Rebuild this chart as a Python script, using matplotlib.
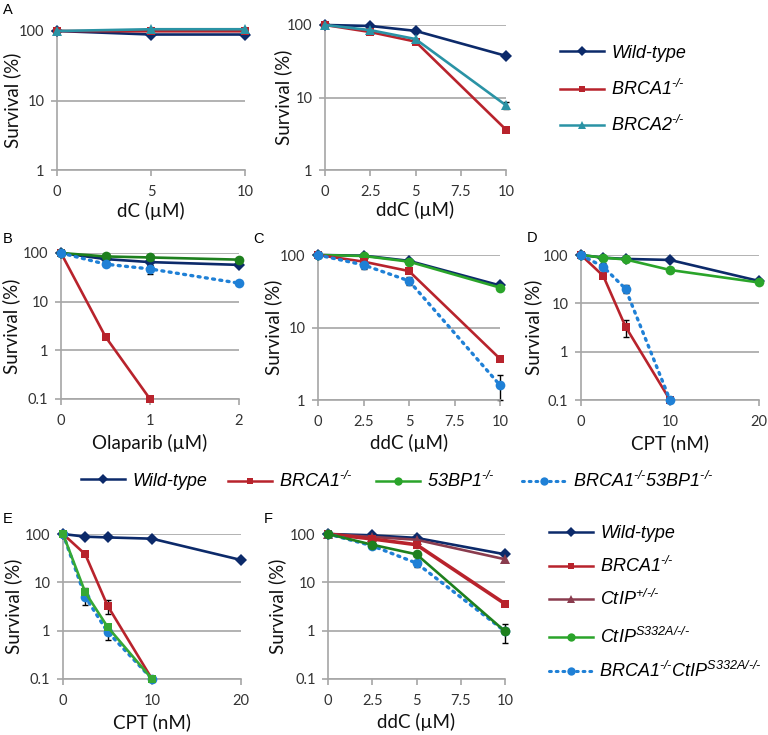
import matplotlib
matplotlib.use("Agg")
import matplotlib.pyplot as plt
from matplotlib.ticker import FuncFormatter, NullLocator
from matplotlib.lines import Line2D

plt.rcParams['font.family'] = ['Lato', 'DejaVu Sans']
plt.rcParams['mathtext.fontset'] = 'custom'
plt.rcParams['mathtext.it'] = 'Liberation Sans:italic'
plt.rcParams['mathtext.rm'] = 'Liberation Sans:italic'
plt.rcParams['mathtext.default'] = 'it'

# ---------------- data ----------------
# Panel A (dC)
a1_x = [0, 5, 10]
a1_wt = [100, 89, 89]
a1_brca1 = [100, 99, 99]
a1_brca2 = [100, 106, 106]
# Panel A (ddC)
a2_x = [0, 2.5, 5, 10]
a2_wt = [100, 97, 83, 37.5]
a2_brca1 = [100, 80, 59, 3.6]
a2_brca2 = [100, 85, 64, 7.8]
a2_brca2_err = [0, 0, 0, 0.9]
# Panel B (Olaparib)
b_x = [0, 0.5, 1, 2]
b_wt = [100, 75, 65, 57]
b_wt_err = [0, 0, 8, 0]
b_brca1_x = [0, 0.5, 1]
b_brca1 = [100, 1.9, 0.1]
b_53bp1 = [100, 85, 81, 73]
b_dbl = [100, 59, 47, 24]
b_dbl_err = [0, 5, 10, 2]
# Panel C (ddC)
c_x = [0, 2.5, 5, 10]
c_wt = [100, 98, 83, 38]
c_brca1 = [100, 81, 60, 3.7]
c_53bp1 = [100, 97, 81, 35.5]
c_dbl = [100, 73, 44, 1.6]
c_dbl_err = [0, 8, 6, 0.6]
# Panel D (CPT)
d_x = [0, 2.5, 5, 10, 20]
d_wt = [100, 88, 83, 79, 29]
d_brca1_x = [0, 2.5, 5, 10]
d_brca1 = [100, 37, 3.3, 0.1]
d_brca1_err = [0, 0, 1.3, 0]
d_53bp1 = [100, 88, 81, 49, 27]
d_dbl_x = [0, 2.5, 5, 10]
d_dbl = [100, 57, 20, 0.1]
d_dbl_err = [0, 12, 4, 0]
# Panel E (CPT)
e_x = [0, 2.5, 5, 10, 20]
e_wt = [100, 88, 85, 80, 29]
e_brca1_x = [0, 2.5, 5, 10]
e_brca1 = [100, 38, 3.3, 0.1]
e_brca1_err = [0, 0, 1.1, 0]
e_s332a_x = [0, 2.5, 5, 10]
e_s332a = [100, 6.2, 1.2, 0.1]
e_s332a_err = [0, 1.3, 0, 0]
e_dbl_x = [0, 2.5, 5, 10]
e_dbl = [100, 5.0, 0.95, 0.1]
e_dbl_err = [0, 1.6, 0.3, 0]
# Panel F (ddC)
f_x = [0, 2.5, 5, 10]
f_wt = [100, 94, 83, 38]
f_ctip_het = [100, 87, 76, 30]
f_brca1 = [100, 79, 60, 3.6]
f_s332a = [100, 60, 38, 0.97]
f_dbl = [100, 57, 25, 0.97]
f_dbl_err = [0, 6, 4, 0.42]

# labels (italic text, superscripts via mathtext)
HY = '\u2010'
SUP_KO = '$^{' + HY + '/' + HY + '}$'
lab_wt = 'Wild-type'
lab_brca1 = 'BRCA1' + SUP_KO
lab_brca2 = 'BRCA2' + SUP_KO
lab_53bp1 = '53BP1' + SUP_KO
lab_dbl53 = 'BRCA1' + SUP_KO + '53BP1' + SUP_KO
lab_ctiphet = 'CtIP$^{+/' + HY + '/' + HY + '}$'
lab_s332a = 'CtIP$^{S332A/' + HY + '/' + HY + '}$'
lab_dblct = 'BRCA1' + SUP_KO + 'CtIP$^{S332A/' + HY + '/' + HY + '}$'

# colours / styles
C_WT = '#0c2a6a'
C_B1 = '#b8232c'
C_B2 = '#2a93a5'
C_53 = '#2aa42a'
C_53D = '#1e801e'
C_CT = '#8a3c4e'
C_DB = '#1f80d6'
GRID = '#a6a6a6'

W, H = 768, 735
fig = plt.figure(figsize=(W / 100, H / 100), dpi=100)


def add_ax(x0, x1, yt, yb):
    return fig.add_axes([x0 / W, 1 - yb / H, (x1 - x0) / W, (yb - yt) / H])


def style(ax, px, xticks, ylim, xlabel, ylab_cx, xlab_cy):
    x0, x1, yt, yb = px
    ax.set_yscale('log')
    ax.set_ylim(*ylim)
    ax.set_xlim(xticks[0], xticks[-1])
    ax.set_xticks(xticks)
    ax.set_xticklabels([f'{t:g}' for t in xticks])
    yt_vals = [v for v in [0.1, 1, 10, 100] if ylim[0] <= v <= ylim[1]]
    ax.set_yticks(yt_vals)
    ax.yaxis.set_major_formatter(FuncFormatter(lambda v, p: f'{v:g}'))
    ax.yaxis.set_minor_locator(NullLocator())
    ax.grid(axis='y', color=GRID, lw=1.2)
    ax.set_axisbelow(True)
    for s in ['top', 'right']:
        ax.spines[s].set_visible(False)
    for s in ['left', 'bottom']:
        ax.spines[s].set_color(GRID)
        ax.spines[s].set_linewidth(1.2)
    ax.tick_params(axis='both', color=GRID, length=4, width=1.2,
                   labelsize=10.5, labelcolor='#333333')
    ax.tick_params(axis='x', pad=6.5)
    ax.tick_params(axis='y', pad=5)
    ax.set_ylabel('Survival (%)', fontsize=13.5, color='#111111')
    ax.set_xlabel(xlabel, fontsize=13.5, color='#111111')
    ax.yaxis.label.set_va('center')
    ax.xaxis.label.set_va('center')
    ax.yaxis.set_label_coords((ylab_cx - x0) / (x1 - x0), 0.5)
    ax.xaxis.set_label_coords(0.5, (yb - xlab_cy) / (yb - yt))


def line(ax, x, y, color, marker, ms, ls='-', lw=1.9, z=3):
    kw = dict(color=color, marker=marker, markersize=ms, lw=lw, clip_on=False,
              zorder=z, markeredgewidth=0)
    if ls == ':':
        kw.update(linestyle=(0, (0.6, 1.6)), dash_capstyle='round', lw=2.4)
    ax.plot(x, y, **kw)


def err(ax, x, y, e):
    ax.errorbar(x, y, yerr=e, fmt='none', ecolor='black', elinewidth=1,
                capsize=2.5, capthick=1, zorder=2.5, clip_on=False)


# ---------------- Panel A (dC) ----------------
pA1 = (57, 245, 31, 170)
ax = add_ax(*pA1)
line(ax, a1_x, a1_wt, C_WT, 'D', 6)
line(ax, a1_x, a1_brca1, C_B1, 's', 6)
line(ax, a1_x, a1_brca2, C_B2, '^', 7)
style(ax, pA1, [0, 5, 10], (1, 100), 'dC (µM)', 12, 211)

# ---------------- Panel A (ddC) ----------------
pA2 = (325, 506, 25, 170)
ax = add_ax(*pA2)
err(ax, a2_x, a2_brca2, a2_brca2_err)
line(ax, a2_x, a2_wt, C_WT, 'D', 6)
line(ax, a2_x, a2_brca1, C_B1, 's', 6)
line(ax, a2_x, a2_brca2, C_B2, '^', 7)
style(ax, pA2, [0, 2.5, 5, 7.5, 10], (1, 100), 'ddC (µM)', 283, 210)

# ---------------- Panel B ----------------
pB = (61, 239, 253, 399)
ax = add_ax(*pB)
err(ax, b_x, b_wt, b_wt_err)
err(ax, b_x, b_dbl, b_dbl_err)
line(ax, b_x, b_wt, C_WT, 'D', 6)
line(ax, b_brca1_x, b_brca1, C_B1, 's', 6)
line(ax, b_x, b_53bp1, C_53D, 'o', 7)
line(ax, b_x, b_dbl, C_DB, 'o', 7, ls=':')
style(ax, pB, [0, 1, 2], (0.1, 100), 'Olaparib (µM)', 11, 443)

# ---------------- Panel C ----------------
pC = (318, 500, 255, 400)
ax = add_ax(*pC)
err(ax, c_x, c_dbl, c_dbl_err)
line(ax, c_x, c_wt, C_WT, 'D', 6)
line(ax, c_x, c_53bp1, C_53, 'o', 7)
line(ax, c_x, c_brca1, C_B1, 's', 6)
line(ax, c_x, c_dbl, C_DB, 'o', 7, ls=':')
style(ax, pC, [0, 2.5, 5, 7.5, 10], (1, 100), 'ddC (µM)', 273, 443)

# ---------------- Panel D ----------------
pD = (581, 759, 255, 400)
ax = add_ax(*pD)
err(ax, d_brca1_x, d_brca1, d_brca1_err)
err(ax, d_dbl_x, d_dbl, d_dbl_err)
line(ax, d_x, d_wt, C_WT, 'D', 6)
line(ax, d_x, d_53bp1, C_53, 'o', 7)
line(ax, d_brca1_x, d_brca1, C_B1, 's', 6)
line(ax, d_dbl_x, d_dbl, C_DB, 'o', 7, ls=':')
style(ax, pD, [0, 10, 20], (0.1, 100), 'CPT (nM)', 533, 443)

# ---------------- Panel E ----------------
pE = (63, 241, 534, 679)
ax = add_ax(*pE)
err(ax, e_brca1_x, e_brca1, e_brca1_err)
err(ax, e_s332a_x, e_s332a, e_s332a_err)
err(ax, e_dbl_x, e_dbl, e_dbl_err)
line(ax, e_x, e_wt, C_WT, 'D', 6)
line(ax, e_brca1_x, e_brca1, C_B1, 's', 6)
line(ax, e_dbl_x, e_dbl, C_DB, 'o', 7, ls=':')
line(ax, e_s332a_x, e_s332a, '#36a835', 's', 6)
style(ax, pE, [0, 10, 20], (0.1, 100), 'CPT (nM)', 13, 722)

# ---------------- Panel F ----------------
pF = (328, 505, 534, 679)
ax = add_ax(*pF)
err(ax, f_x, f_dbl, f_dbl_err)
line(ax, f_x, f_wt, C_WT, 'D', 6)
line(ax, f_x, f_ctip_het, C_CT, '^', 7)
line(ax, f_x, f_brca1, C_B1, 's', 6, lw=2.6)
line(ax, f_x, f_dbl, C_DB, 'o', 7, ls=':')
line(ax, f_x, f_s332a, C_53D, 'o', 7)
style(ax, pF, [0, 2.5, 5, 7.5, 10], (0.1, 100), 'ddC (µM)', 277, 722)

# ---------------- panel letters ----------------
for t, x, y in [('A', 3, 10), ('B', 3, 239), ('C', 253, 239), ('D', 527, 238),
                ('E', 3, 519), ('F', 264, 519)]:
    fig.text(x / W, 1 - y / H, t, fontsize=10.5, family='Liberation Sans',
             va='center', ha='left')


# ---------------- legends ----------------
def handle(color, marker, ms, ls='-'):
    if ls == ':':
        return Line2D([], [], color=color, marker=marker, markersize=ms,
                      linestyle=(0, (0.6, 1.6)), dash_capstyle='round', lw=2.2,
                      markeredgewidth=0)
    return Line2D([], [], color=color, marker=marker, markersize=ms, lw=1.8,
                  markeredgewidth=0)


def leg(h, label, x_line, y, length_px, fs=13, pad_px=7):
    em = fs * 100 / 72
    fig.legend([h], [label], loc='center left',
               bbox_to_anchor=(x_line / W, 1 - y / H), frameon=False,
               borderpad=0, borderaxespad=0, handlelength=length_px / em,
               handletextpad=pad_px / em, numpoints=1,
               prop=dict(family='Liberation Sans', style='italic', size=fs))


# top legend
leg(handle(C_WT, 'D', 5), lab_wt, 560, 53, 44)
leg(handle(C_B1, 's', 5), lab_brca1, 560, 89, 44)
leg(handle(C_B2, '^', 6), lab_brca2, 560, 125, 44)

# middle legend
leg(handle(C_WT, 'D', 5), lab_wt, 81, 481, 44)
leg(handle(C_B1, 's', 5), lab_brca1, 228, 481, 44)
leg(handle(C_53, 'o', 6), lab_53bp1, 376, 481, 44)
leg(handle(C_DB, 'o', 6, ':'), lab_dbl53, 522, 481, 44)

# bottom legend
leg(handle(C_WT, 'D', 5), lab_wt, 549, 534, 44)
leg(handle(C_B1, 's', 5), lab_brca1, 549, 566, 44)
leg(handle(C_CT, '^', 6), lab_ctiphet, 549, 599, 44)
leg(handle(C_53, 'o', 6), lab_s332a, 549, 637, 44)
leg(handle(C_DB, 'o', 6, ':'), lab_dblct, 549, 671, 44, fs=13, pad_px=6)

fig.savefig('out.png', dpi=100)
